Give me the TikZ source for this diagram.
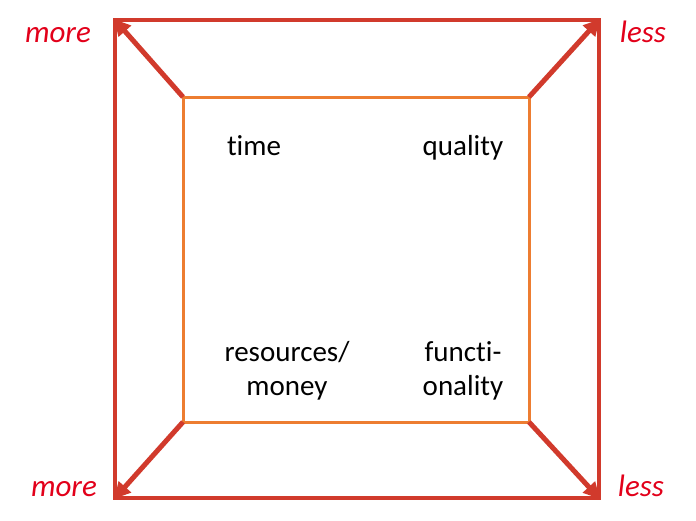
\documentclass[tikz,border=0pt]{standalone}
\usepackage{fontspec}
\setmainfont[Ligatures={NoCommon}]{Carlito}
\usetikzlibrary{arrows.meta}
\definecolor{outred}{HTML}{D13A2C}
\definecolor{inorange}{HTML}{ED7D31}
\definecolor{txtred}{HTML}{E2001A}
\tikzset{
  lbl/.style={font=\fontsize{29}{34}\selectfont, align=center, inner sep=0pt},
  side/.style={font=\fontsize{31}{34}\selectfont\itshape, text=txtred, inner sep=0pt},
  arr/.style={draw=outred, line width=5pt, -{Triangle[length=16pt,width=16pt]}, shorten >=-1pt}
}
\begin{document}
\begin{tikzpicture}[x=1pt,y=-1pt]
\useasboundingbox (0,0) rectangle (696,520);
\coordinate (o1) at (115,20);
\coordinate (o2) at (599,20);
\coordinate (o3) at (599,498);
\coordinate (o4) at (115,498);
\coordinate (i1) at (183,97);
\coordinate (i2) at (529,97);
\coordinate (i3) at (529,422);
\coordinate (i4) at (183,422);
\draw[outred, line width=4pt] (o1) -- (o2) -- (o3) -- (o4) -- cycle;
\draw[inorange, line width=3pt] (i1) -- (i2) -- (i3) -- (i4) -- cycle;
\draw[arr] (i1) -- (o1);
\draw[arr] (i2) -- (o2);
\draw[arr] (i3) -- (o3);
\draw[arr] (i4) -- (o4);
\node[lbl, anchor=base] (time) at (254,155) {time};
\node[lbl, anchor=base] (quality) at (463,155) {quality};
\node[lbl, anchor=base] (res) at (287,395) {resources/\\money};
\node[lbl, anchor=base] (fun) at (463,395) {functi-\\onality};
\node[side, anchor=base] (m1) at (58,42) {more};
\node[side, anchor=base] (l1) at (643,42) {less};
\node[side, anchor=base] (m2) at (64,496) {more};
\node[side, anchor=base] (l2) at (641,496) {less};
\end{tikzpicture}
\end{document}
